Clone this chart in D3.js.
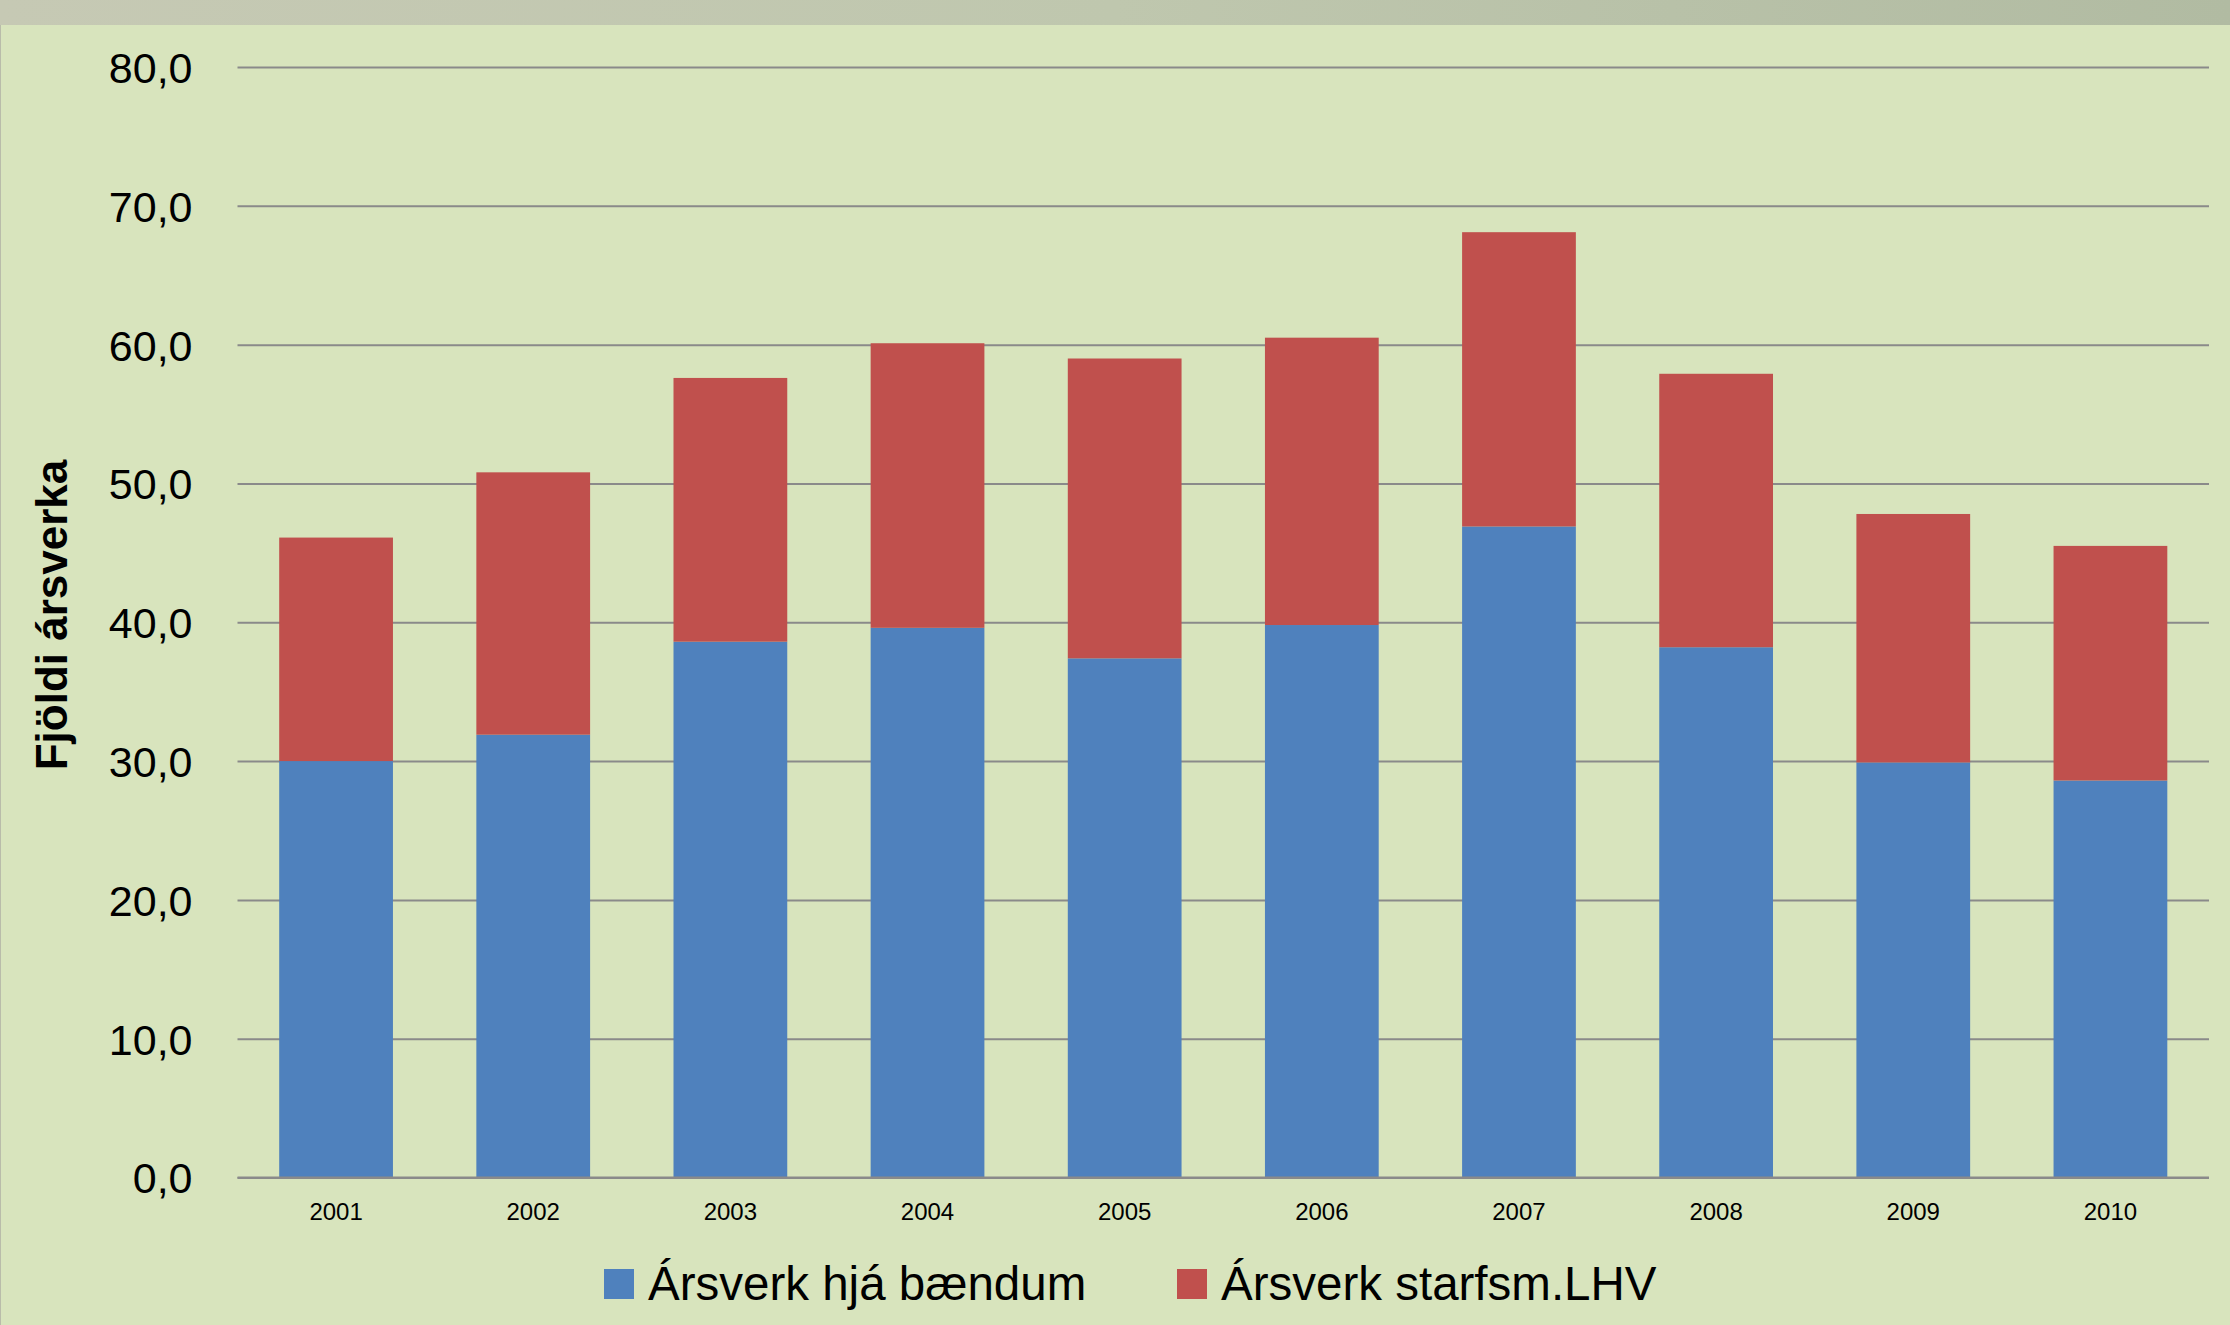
<!DOCTYPE html>
<html>
<head>
<meta charset="utf-8">
<script src="https://cdn.jsdelivr.net/npm/d3@7"></script>
<style>
  html, body { margin: 0; padding: 0; background: #d8e4bd; }
  svg { display: block; }
  text { font-family: "Liberation Sans", Arial, sans-serif; fill: #000; }
</style>
</head>
<body>
<svg id="chart" width="2230" height="1325"></svg>
<script>
// data
const years = ["2001", "2002", "2003", "2004", "2005", "2006", "2007", "2008", "2009", "2010"];
const farmers = [30.0, 31.9, 38.6, 39.6, 37.4, 39.8, 46.9, 38.2, 29.9, 28.6];   // Ársverk hjá bændum
const staff = [16.1, 18.9, 19.0, 20.5, 21.6, 20.7, 21.2, 19.7, 17.9, 16.9];     // Ársverk starfsm.LHV
const yTicks = [0, 10, 20, 30, 40, 50, 60, 70, 80];
const seriesNames = ["Ársverk hjá bændum", "Ársverk starfsm.LHV"];
const seriesColors = ["#4f81bd", "#c0504d"];

const svg = d3.select("#chart");
const W = 2230, H = 1325;
const margin = { left: 237.5, right: 21, top: 67, bottom: 147.5 };

// background + grey band at the top
const defs = svg.append("defs");
const grad = defs.append("linearGradient").attr("id", "band")
grad.append("stop").attr("offset", "0%").attr("stop-color", "#c6c9b4")
grad.append("stop").attr("offset", "50%").attr("stop-color", "#bfc7ae")
grad.append("stop").attr("offset", "100%").attr("stop-color", "#b1bba2")

svg.append("rect").attr("width", W).attr("height", H).attr("fill", "#d8e4bd")
svg.append("rect").attr("width", W).attr("height", 25).attr("fill", "url(#band)")
svg.append("line").attr("x1", 0.5).attr("x2", 0.5).attr("y1", 25).attr("y2", H)
  .attr("stroke", "#b9bcaa").attr("stroke-width", 1)

const x = d3.scaleBand()
  .domain(years)
  .range([margin.left, W - margin.right])
  .paddingInner(0.423)
  .paddingOuter(0.2115)

const y = d3.scaleLinear()
  .domain([0, 80])
  .range([H - margin.bottom, margin.top])

const fmt = d => d.toFixed(1).replace(".", ",")

// gridlines + y labels
const yAxis = svg.append("g")
  .attr("transform", `translate(${margin.left},0)`)
  .call(d3.axisLeft(y).tickValues(yTicks).tickFormat(fmt)
    .tickSize(-(W - margin.left - margin.right)).tickPadding(45))
yAxis.select(".domain").remove()
yAxis.selectAll(".tick line").attr("stroke", "#8a8a8a").attr("stroke-width", 2)
yAxis.selectAll(".tick text")
  .style("font-size", "43px")
  .attr("dy", "0.36em")

// stacked bars
const rows = years.map((yr, i) => ({ year: yr, a: farmers[i], b: staff[i] }))
const stacked = d3.stack().keys(["a", "b"])(rows)

svg.append("g").selectAll("g")
  .data(stacked)
  .join("g")
  .attr("fill", (d, i) => seriesColors[i])
  .selectAll("rect")
  .data(d => d)
  .join("rect")
  .attr("x", d => x(d.data.year))
  .attr("width", x.bandwidth())
  .attr("y", d => y(d[1]))
  .attr("height", d => y(d[0]) - y(d[1]))

// baseline drawn over the bars
svg.append("line")
  .attr("x1", margin.left).attr("x2", W - margin.right)
  .attr("y1", y(0)).attr("y2", y(0))
  .attr("stroke", "#8a8a8a").attr("stroke-width", 2)

// x labels
svg.append("g").selectAll("text")
  .data(years)
  .join("text")
  .attr("x", d => x(d) + x.bandwidth() / 2)
  .attr("y", 1220)
  .attr("text-anchor", "middle")
  .style("font-size", "24px")
  .text(d => d)

// y axis title
svg.append("text")
  .attr("transform", `translate(67,615) rotate(-90)`)
  .attr("text-anchor", "middle")
  .style("font-size", "44px")
  .style("font-weight", "bold")
  .text("Fjöldi ársverka")

// legend
const legendX = [604, 1177];
const legend = svg.append("g").selectAll("g")
  .data(seriesNames)
  .join("g")
  .attr("transform", (d, i) => `translate(${legendX[i]},1269)`)
legend.append("rect")
  .attr("width", 30).attr("height", 30)
  .attr("fill", (d, i) => seriesColors[i])
legend.append("text")
  .attr("x", 44).attr("y", 31)
  .style("font-size", "47.5px")
  .text(d => d)
</script>
</body>
</html>
